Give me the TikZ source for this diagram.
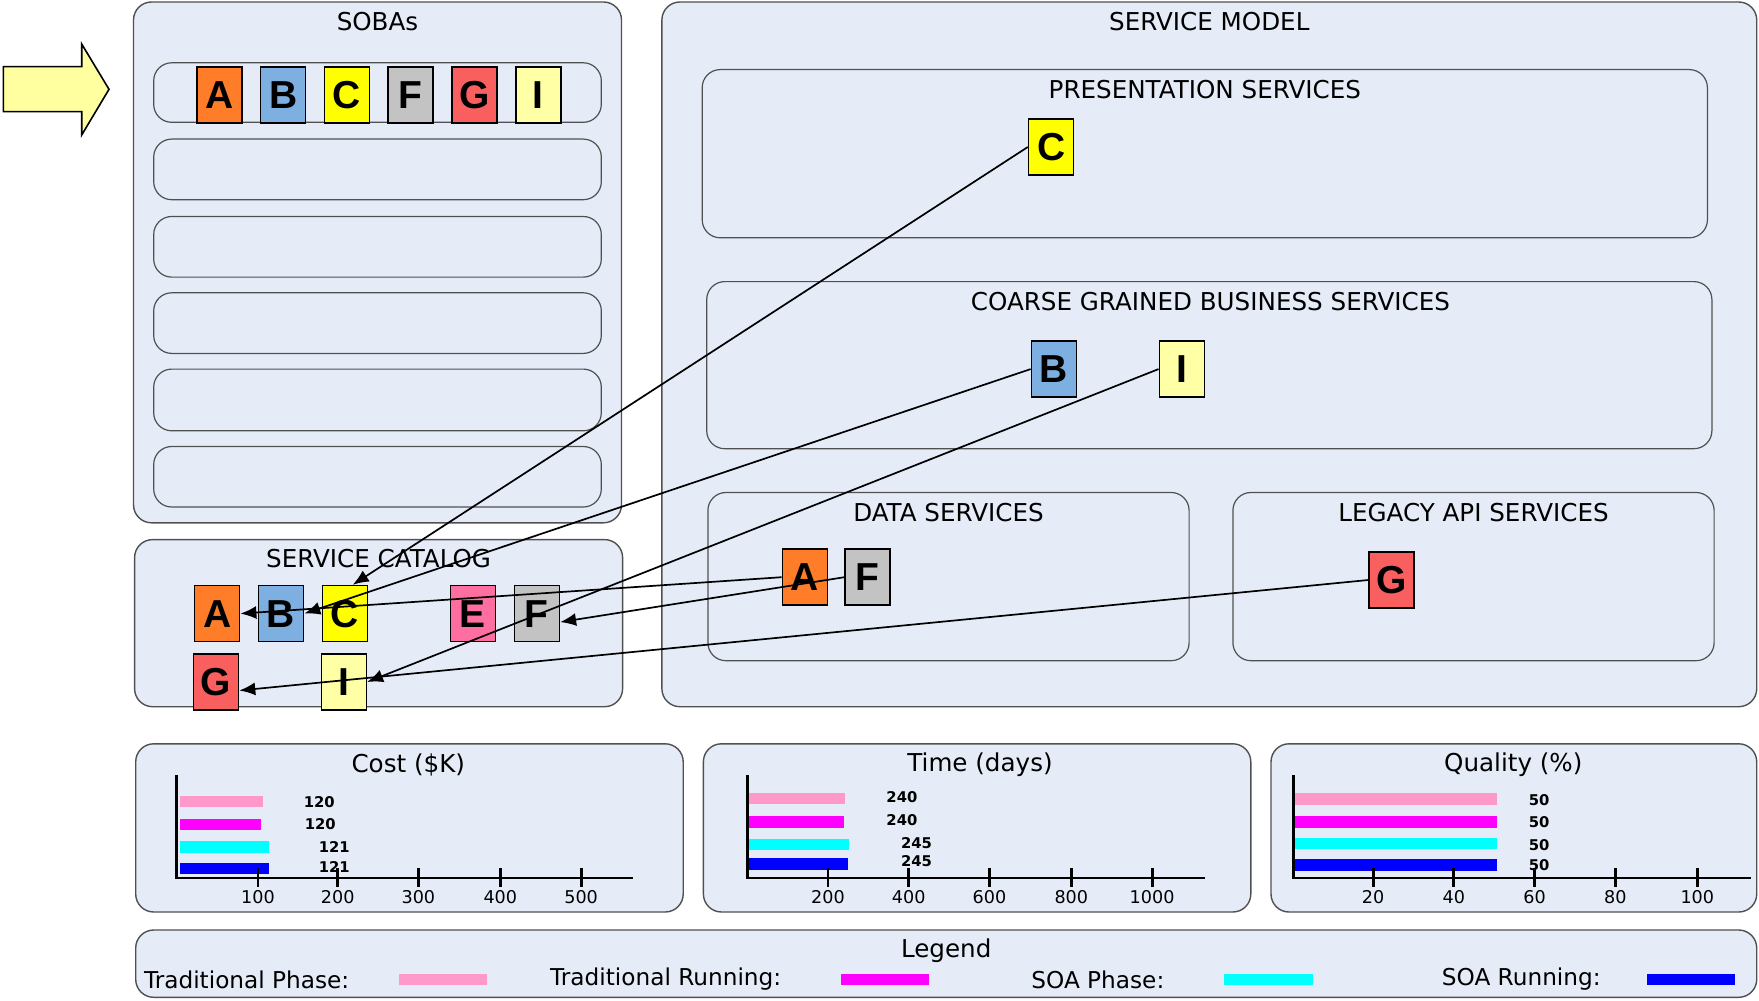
\documentclass[tikz,border=0pt]{standalone}
\usepackage{fontspec}
\setmainfont{DejaVu Sans}
\newfontfamily\sqfont{Liberation Sans}
\usetikzlibrary{arrows.meta}
\definecolor{panelfill}{RGB}{230,236,247}
\definecolor{panelline}{RGB}{80,80,80}
\definecolor{cA}{RGB}{255,125,40}
\definecolor{cB}{RGB}{125,175,225}
\definecolor{cC}{RGB}{255,255,0}
\definecolor{cE}{RGB}{255,110,160}
\definecolor{cF}{RGB}{195,195,195}
\definecolor{cG}{RGB}{250,95,95}
\definecolor{cI}{RGB}{255,255,165}
\definecolor{arrowfill}{RGB}{255,255,160}
\definecolor{tphase}{RGB}{255,153,204}
\definecolor{trun}{RGB}{255,0,255}
\definecolor{sphase}{RGB}{0,255,255}
\definecolor{srun}{RGB}{0,0,255}
\tikzset{
  panel/.style={draw=panelline, fill=panelfill, rounded corners=9pt, line width=0.7pt},
  subbox/.style={draw=panelline, rounded corners=9pt, line width=0.6pt},
  ttl/.style={font=\fontsize{12.3}{14}\selectfont, inner sep=0pt},
  sqbox/.style={draw=black, line width=0.8pt, minimum width=22.5pt, minimum height=28pt, inner sep=0pt, font=\sqfont\bfseries\fontsize{19.5}{20}\selectfont},
  link/.style={-{Latex[length=8pt,width=6.5pt]}, line width=0.85pt},
  axis/.style={line width=1.4pt, line cap=rect},
  ticklbl/.style={font=\fontsize{8.8}{10}\selectfont, inner sep=0pt},
  vallbl/.style={font=\bfseries\fontsize{7.4}{9}\selectfont, inner sep=0pt},
  lgd/.style={font=\fontsize{11.6}{14}\selectfont, inner sep=0pt, anchor=west},
  bigarrow/.style={draw=black, fill=arrowfill, line width=0.8pt, line join=miter}
}
\begin{document}
\begin{tikzpicture}[x=0.5pt, y=-0.5pt]
\useasboundingbox (0,0) rectangle (1759,1000);

% left arrow
\draw[bigarrow] (3.3,66.7) -- (81.7,66.7) -- (81.7,44) -- (109,89.3) -- (81.7,135) -- (81.7,111.7) -- (3.3,111.7) -- cycle;

% SOBAs panel
\draw[panel] (133.5,2) rectangle (621.5,522.8);
\node[ttl] (sobaT) at (377.5,21.5) {SOBAs};
\draw[subbox] (153.7,62.8) rectangle (601.3,122.3);
\draw[subbox] (153.7,139.1) rectangle (601.3,199.7);
\draw[subbox] (153.7,216.5) rectangle (601.3,277.1);
\draw[subbox] (153.7,292.8) rectangle (601.3,353.4);
\draw[subbox] (153.7,369.1) rectangle (601.3,430.8);
\draw[subbox] (153.7,446.5) rectangle (601.3,507);
\node[sqbox, fill=cA] (sA) at (219.3,95) {A};
\node[sqbox, fill=cB] (sB) at (283.1,95) {B};
\node[sqbox, fill=cC] (sC) at (346.9,95) {C};
\node[sqbox, fill=cF] (sF) at (410.7,95) {F};
\node[sqbox, fill=cG] (sG) at (474.5,95) {G};
\node[sqbox, fill=cI] (sI) at (538.3,95) {I};

% Service catalog
\draw[panel] (134.6,539.6) rectangle (622.6,706.7);
\node[ttl] (catT) at (378.6,559) {SERVICE CATALOG};
\node[sqbox, fill=cA] (kA) at (217.1,613.6) {A};
\node[sqbox, fill=cB] (kB) at (281,613.6) {B};
\node[sqbox, fill=cC] (kC) at (345,613.6) {C};
\node[sqbox, fill=cE] (kE) at (472.8,613.6) {E};
\node[sqbox, fill=cF] (kF) at (536.8,613.6) {F};
\node[sqbox, fill=cG] (kG) at (216,682) {G};
\node[sqbox, fill=cI] (kI) at (343.8,682) {I};

% Service model
\draw[panel] (661.9,2) rectangle (1756.7,706.7);
\node[ttl] (smT) at (1209.3,21.5) {SERVICE MODEL};
\draw[subbox] (702.2,69.6) rectangle (1707.4,237.8);
\node[ttl] (prT) at (1204.8,90) {PRESENTATION SERVICES};
\node[sqbox, fill=cC] (pC) at (1051.1,147) {C};
\draw[subbox] (706.7,281.6) rectangle (1711.9,448.7);
\node[ttl] (cgT) at (1210.4,302) {COARSE GRAINED BUSINESS SERVICES};
\node[sqbox, fill=cB] (gB) at (1053.9,369.1) {B};
\node[sqbox, fill=cI] (gI) at (1181.8,369.1) {I};
\draw[subbox] (707.9,492.5) rectangle (1189.1,660.7);
\node[ttl] (dsT) at (948.5,513) {DATA SERVICES};
\node[sqbox, fill=cA] (dA) at (804.9,577.2) {A};
\node[sqbox, fill=cF] (dF) at (867.7,577.2) {F};
\draw[subbox] (1232.9,492.5) rectangle (1714.1,660.7);
\node[ttl] (laT) at (1473.5,513) {LEGACY API SERVICES};
\node[sqbox, fill=cG] (lG) at (1391.6,580) {G};

% connectors
\draw[link] (pC.west) -- (kC.75);
\draw[link] (gB.west) -- (kB.east);
\draw[link] (gI.west) -- (kI.east);
\draw[link] (dA.west) -- (kA.east);
\draw[link] (dF.west) -- (kF.-20);
\draw[link] (lG.west) -- (kG.-20);

% Cost chart
\draw[panel] (135.7,743.8) rectangle (683.2,912);
\node[ttl] (costT) at (408.3,765) {Cost (\$K)};
\fill[tphase] (179.5,796) rectangle (262.5,807);
\fill[trun] (179.5,818.5) rectangle (261.4,829.5);
\fill[sphase] (179.5,841) rectangle (269.2,852.5);
\fill[srun] (179.5,862.5) rectangle (269.2,874);
\draw[axis] (176.1,776) -- (176.1,878) -- (631.6,878);
\foreach \x/\t [count=\i] in {258/100,337.7/200,418.4/300,500.3/400,581.1/500}{
  \draw[axis, line cap=butt] (\x,868) -- (\x,887);
  \node[ticklbl] (cx\i) at (\x,897) {\t};
}
\node[vallbl] (cv1) at (319.2,802) {120};
\node[vallbl] (cv2) at (320.3,824.5) {120};
\node[vallbl] (cv3) at (334.3,847) {121};
\node[vallbl] (cv4) at (334.3,867.2) {121};

% Time chart
\draw[panel] (703.4,743.8) rectangle (1250.8,912);
\node[ttl] (timeT) at (980,765) {Time (days)};
\fill[tphase] (747.1,792.7) rectangle (844.7,804.3);
\fill[trun] (747.1,816) rectangle (843.6,827.7);
\fill[sphase] (747.1,838.7) rectangle (849.2,850);
\fill[srun] (747.1,858.3) rectangle (848.1,870.3);
\draw[axis] (747.1,776) -- (747.1,878) -- (1203.7,878);
\foreach \x/\t [count=\i] in {827.9/200,908.7/400,989.4/600,1071.3/800,1152.1/1000}{
  \draw[axis, line cap=butt] (\x,868) -- (\x,887);
  \node[ticklbl] (tx\i) at (\x,897) {\t};
}
\node[vallbl] (tv1) at (901.9,797.6) {240};
\node[vallbl] (tv2) at (901.9,820) {240};
\node[vallbl] (tv3) at (916.5,843.6) {245};
\node[vallbl] (tv4) at (916.5,861.5) {245};

% Quality chart
\draw[panel] (1271,743.8) rectangle (1756.7,912);
\node[ttl] (qualT) at (1513.3,765) {Quality (\%)};
\fill[tphase] (1293.4,793.3) rectangle (1496.5,805);
\fill[trun] (1293.4,815.6) rectangle (1496.5,827.9);
\fill[sphase] (1293.4,838) rectangle (1496.5,849.2);
\fill[srun] (1293.4,859.3) rectangle (1496.5,870.5);
\draw[axis] (1293.4,776) -- (1293.4,878) -- (1750,878);
\foreach \x/\t [count=\i] in {1373.1/20,1453.8/40,1534.6/60,1615.4/80,1697.3/100}{
  \draw[axis, line cap=butt] (\x,868) -- (\x,887);
  \node[ticklbl] (qx\i) at (\x,897) {\t};
}
\node[vallbl] (qv1) at (1539.1,799.8) {50};
\node[vallbl] (qv2) at (1539.1,822.3) {50};
\node[vallbl] (qv3) at (1539.1,844.7) {50};
\node[vallbl] (qv4) at (1539.1,864.9) {50};

% Legend
\draw[panel] (135.7,930) rectangle (1756.7,997.3);
\node[ttl] (lgT) at (946.2,950.5) {Legend};
\node[lgd] (l1) at (143.6,979.5) {Traditional Phase:};
\fill[tphase] (399.4,973.7) rectangle (486.9,985);
\node[lgd] (l2) at (549.7,979.5) {Traditional Running:};
\fill[trun] (841.4,973.7) rectangle (928.9,985);
\node[lgd] (l3) at (1031,979.5) {SOA Phase:};
\fill[sphase] (1223.9,973.7) rectangle (1312.5,985);
\node[lgd] (l4) at (1441.5,979.5) {SOA Running:};
\fill[srun] (1646.8,973.7) rectangle (1735.4,985);
\end{tikzpicture}
\end{document}
